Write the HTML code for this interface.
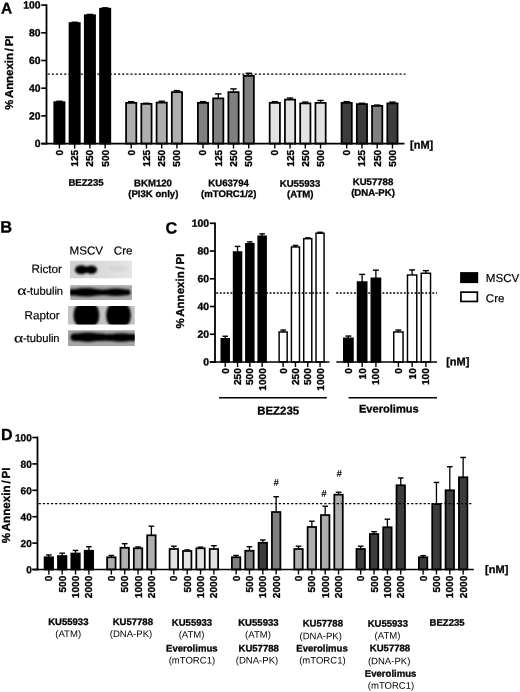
<!DOCTYPE html>
<html lang="en"><head><meta charset="utf-8"><title>Figure</title>
<style>
html,body{margin:0;padding:0;background:#fff;}
svg{display:block;font-family:"Liberation Sans",sans-serif;text-rendering:geometricPrecision;}
</style></head><body>
<svg width="520" height="692" viewBox="0 0 520 692">
<defs>
<filter id="b1" x="-20%" y="-50%" width="140%" height="200%"><feGaussianBlur stdDeviation="1.1"/></filter>
<filter id="b2" x="-20%" y="-50%" width="140%" height="200%"><feGaussianBlur stdDeviation="0.8"/></filter>
<filter id="b3" x="-20%" y="-50%" width="140%" height="200%"><feGaussianBlur stdDeviation="1.6"/></filter>
<clipPath id="c1"><rect x="70" y="260.7" width="62" height="17.5"/></clipPath>
<clipPath id="c2"><rect x="70.3" y="285.3" width="61.6" height="14.8"/></clipPath>
<clipPath id="c3"><rect x="68" y="306" width="66.7" height="18.4"/></clipPath>
<clipPath id="c4"><rect x="68" y="330.3" width="66.7" height="15.6"/></clipPath>
<linearGradient id="g1" x1="0" x2="1" y1="0" y2="0"><stop offset="0" stop-color="#cfcfcf"/><stop offset="1" stop-color="#e6e6e6"/></linearGradient>
</defs>
<rect width="520" height="692" fill="#fff"/>

<text x="1.0" y="13.5" font-size="15.5" font-weight="bold" stroke="#000" stroke-width="0.3" text-anchor="start" transform="rotate(0.03 1.0 13.5)">A</text>
<g id="panelA">
<line x1="59.4" y1="102.3" x2="59.4" y2="101.2" stroke="#000" stroke-width="1.3"/>
<line x1="56.2" y1="101.25" x2="62.6" y2="101.25" stroke="#000" stroke-width="1.4"/>
<rect x="54.27" y="102.17" width="10.25" height="41.42" fill="#000" stroke="#000" stroke-width="1.75"/>
<line x1="59.4" y1="143.6" x2="59.4" y2="148.6" stroke="#000" stroke-width="1.4"/>
<text x="59.4" y="149.8" font-size="10.1" font-weight="bold" stroke="#000" stroke-width="0.3" text-anchor="end" transform="rotate(-90 59.4 149.8)" dy="3.5">0</text>
<line x1="74.65" y1="23.2" x2="74.65" y2="22.2" stroke="#000" stroke-width="1.3"/>
<line x1="71.45" y1="22.25" x2="77.85" y2="22.25" stroke="#000" stroke-width="1.4"/>
<rect x="69.53" y="23.07" width="10.25" height="120.52" fill="#000" stroke="#000" stroke-width="1.75"/>
<line x1="74.65" y1="143.6" x2="74.65" y2="148.6" stroke="#000" stroke-width="1.4"/>
<text x="74.65" y="149.8" font-size="10.1" font-weight="bold" stroke="#000" stroke-width="0.3" text-anchor="end" transform="rotate(-90 74.65 149.8)" dy="3.5">125</text>
<line x1="89.9" y1="15.4" x2="89.9" y2="14.4" stroke="#000" stroke-width="1.3"/>
<line x1="86.7" y1="14.45" x2="93.1" y2="14.45" stroke="#000" stroke-width="1.4"/>
<rect x="84.78" y="15.28" width="10.25" height="128.32" fill="#000" stroke="#000" stroke-width="1.75"/>
<line x1="89.9" y1="143.6" x2="89.9" y2="148.6" stroke="#000" stroke-width="1.4"/>
<text x="89.9" y="149.8" font-size="10.1" font-weight="bold" stroke="#000" stroke-width="0.3" text-anchor="end" transform="rotate(-90 89.9 149.8)" dy="3.5">250</text>
<line x1="105.15" y1="8.8" x2="105.15" y2="7.8" stroke="#000" stroke-width="1.3"/>
<line x1="101.95" y1="7.85" x2="108.35" y2="7.85" stroke="#000" stroke-width="1.4"/>
<rect x="100.03" y="8.68" width="10.25" height="134.92" fill="#000" stroke="#000" stroke-width="1.75"/>
<line x1="105.15" y1="143.6" x2="105.15" y2="148.6" stroke="#000" stroke-width="1.4"/>
<text x="105.15" y="149.8" font-size="10.1" font-weight="bold" stroke="#000" stroke-width="0.3" text-anchor="end" transform="rotate(-90 105.15 149.8)" dy="3.5">500</text>
<line x1="131.2" y1="103" x2="131.2" y2="101.6" stroke="#000" stroke-width="1.3"/>
<line x1="128" y1="101.65" x2="134.4" y2="101.65" stroke="#000" stroke-width="1.4"/>
<rect x="126.08" y="102.88" width="10.25" height="40.72" fill="#aeaeae" stroke="#000" stroke-width="1.75"/>
<line x1="131.2" y1="143.6" x2="131.2" y2="148.6" stroke="#000" stroke-width="1.4"/>
<text x="131.2" y="149.8" font-size="10.1" font-weight="bold" stroke="#000" stroke-width="0.3" text-anchor="end" transform="rotate(-90 131.2 149.8)" dy="3.5">0</text>
<line x1="146.45" y1="104" x2="146.45" y2="103.2" stroke="#000" stroke-width="1.3"/>
<line x1="143.25" y1="103.25" x2="149.65" y2="103.25" stroke="#000" stroke-width="1.4"/>
<rect x="141.32" y="103.88" width="10.25" height="39.72" fill="#aeaeae" stroke="#000" stroke-width="1.75"/>
<line x1="146.45" y1="143.6" x2="146.45" y2="148.6" stroke="#000" stroke-width="1.4"/>
<text x="146.45" y="149.8" font-size="10.1" font-weight="bold" stroke="#000" stroke-width="0.3" text-anchor="end" transform="rotate(-90 146.45 149.8)" dy="3.5">125</text>
<line x1="161.7" y1="102.75" x2="161.7" y2="101.2" stroke="#000" stroke-width="1.3"/>
<line x1="158.5" y1="101.25" x2="164.9" y2="101.25" stroke="#000" stroke-width="1.4"/>
<rect x="156.57" y="102.62" width="10.25" height="40.97" fill="#aeaeae" stroke="#000" stroke-width="1.75"/>
<line x1="161.7" y1="143.6" x2="161.7" y2="148.6" stroke="#000" stroke-width="1.4"/>
<text x="161.7" y="149.8" font-size="10.1" font-weight="bold" stroke="#000" stroke-width="0.3" text-anchor="end" transform="rotate(-90 161.7 149.8)" dy="3.5">250</text>
<line x1="176.95" y1="92.25" x2="176.95" y2="90.6" stroke="#000" stroke-width="1.3"/>
<line x1="173.75" y1="90.65" x2="180.15" y2="90.65" stroke="#000" stroke-width="1.4"/>
<rect x="171.82" y="92.12" width="10.25" height="51.47" fill="#aeaeae" stroke="#000" stroke-width="1.75"/>
<line x1="176.95" y1="143.6" x2="176.95" y2="148.6" stroke="#000" stroke-width="1.4"/>
<text x="176.95" y="149.8" font-size="10.1" font-weight="bold" stroke="#000" stroke-width="0.3" text-anchor="end" transform="rotate(-90 176.95 149.8)" dy="3.5">500</text>
<line x1="203.0" y1="103" x2="203.0" y2="101.6" stroke="#000" stroke-width="1.3"/>
<line x1="199.8" y1="101.65" x2="206.2" y2="101.65" stroke="#000" stroke-width="1.4"/>
<rect x="197.88" y="102.88" width="10.25" height="40.72" fill="#808080" stroke="#000" stroke-width="1.75"/>
<line x1="203.0" y1="143.6" x2="203.0" y2="148.6" stroke="#000" stroke-width="1.4"/>
<text x="203.0" y="149.8" font-size="10.1" font-weight="bold" stroke="#000" stroke-width="0.3" text-anchor="end" transform="rotate(-90 203.0 149.8)" dy="3.5">0</text>
<line x1="218.25" y1="98.5" x2="218.25" y2="93.85" stroke="#000" stroke-width="1.3"/>
<line x1="215.05" y1="93.9" x2="221.45" y2="93.9" stroke="#000" stroke-width="1.4"/>
<rect x="213.12" y="98.38" width="10.25" height="45.22" fill="#808080" stroke="#000" stroke-width="1.75"/>
<line x1="218.25" y1="143.6" x2="218.25" y2="148.6" stroke="#000" stroke-width="1.4"/>
<text x="218.25" y="149.8" font-size="10.1" font-weight="bold" stroke="#000" stroke-width="0.3" text-anchor="end" transform="rotate(-90 218.25 149.8)" dy="3.5">125</text>
<line x1="233.5" y1="92.25" x2="233.5" y2="88.85" stroke="#000" stroke-width="1.3"/>
<line x1="230.3" y1="88.9" x2="236.7" y2="88.9" stroke="#000" stroke-width="1.4"/>
<rect x="228.38" y="92.12" width="10.25" height="51.47" fill="#808080" stroke="#000" stroke-width="1.75"/>
<line x1="233.5" y1="143.6" x2="233.5" y2="148.6" stroke="#000" stroke-width="1.4"/>
<text x="233.5" y="149.8" font-size="10.1" font-weight="bold" stroke="#000" stroke-width="0.3" text-anchor="end" transform="rotate(-90 233.5 149.8)" dy="3.5">250</text>
<line x1="248.75" y1="76" x2="248.75" y2="73.2" stroke="#000" stroke-width="1.3"/>
<line x1="245.55" y1="73.25" x2="251.95" y2="73.25" stroke="#000" stroke-width="1.4"/>
<rect x="243.62" y="75.88" width="10.25" height="67.72" fill="#808080" stroke="#000" stroke-width="1.75"/>
<line x1="248.75" y1="143.6" x2="248.75" y2="148.6" stroke="#000" stroke-width="1.4"/>
<text x="248.75" y="149.8" font-size="10.1" font-weight="bold" stroke="#000" stroke-width="0.3" text-anchor="end" transform="rotate(-90 248.75 149.8)" dy="3.5">500</text>
<line x1="274.8" y1="103" x2="274.8" y2="101.6" stroke="#000" stroke-width="1.3"/>
<line x1="271.6" y1="101.65" x2="278.0" y2="101.65" stroke="#000" stroke-width="1.4"/>
<rect x="269.68" y="102.88" width="10.25" height="40.72" fill="#e2e2e2" stroke="#000" stroke-width="1.75"/>
<line x1="274.8" y1="143.6" x2="274.8" y2="148.6" stroke="#000" stroke-width="1.4"/>
<text x="274.8" y="149.8" font-size="10.1" font-weight="bold" stroke="#000" stroke-width="0.3" text-anchor="end" transform="rotate(-90 274.8 149.8)" dy="3.5">0</text>
<line x1="290.05" y1="99.75" x2="290.05" y2="98.0" stroke="#000" stroke-width="1.3"/>
<line x1="286.85" y1="98.05" x2="293.25" y2="98.05" stroke="#000" stroke-width="1.4"/>
<rect x="284.93" y="99.62" width="10.25" height="43.97" fill="#e2e2e2" stroke="#000" stroke-width="1.75"/>
<line x1="290.05" y1="143.6" x2="290.05" y2="148.6" stroke="#000" stroke-width="1.4"/>
<text x="290.05" y="149.8" font-size="10.1" font-weight="bold" stroke="#000" stroke-width="0.3" text-anchor="end" transform="rotate(-90 290.05 149.8)" dy="3.5">125</text>
<line x1="305.3" y1="103.5" x2="305.3" y2="102.0" stroke="#000" stroke-width="1.3"/>
<line x1="302.1" y1="102.05" x2="308.5" y2="102.05" stroke="#000" stroke-width="1.4"/>
<rect x="300.18" y="103.38" width="10.25" height="40.22" fill="#e2e2e2" stroke="#000" stroke-width="1.75"/>
<line x1="305.3" y1="143.6" x2="305.3" y2="148.6" stroke="#000" stroke-width="1.4"/>
<text x="305.3" y="149.8" font-size="10.1" font-weight="bold" stroke="#000" stroke-width="0.3" text-anchor="end" transform="rotate(-90 305.3 149.8)" dy="3.5">250</text>
<line x1="320.55" y1="103" x2="320.55" y2="100.4" stroke="#000" stroke-width="1.3"/>
<line x1="317.35" y1="100.45" x2="323.75" y2="100.45" stroke="#000" stroke-width="1.4"/>
<rect x="315.43" y="102.88" width="10.25" height="40.72" fill="#e2e2e2" stroke="#000" stroke-width="1.75"/>
<line x1="320.55" y1="143.6" x2="320.55" y2="148.6" stroke="#000" stroke-width="1.4"/>
<text x="320.55" y="149.8" font-size="10.1" font-weight="bold" stroke="#000" stroke-width="0.3" text-anchor="end" transform="rotate(-90 320.55 149.8)" dy="3.5">500</text>
<line x1="346.7" y1="103" x2="346.7" y2="101.6" stroke="#000" stroke-width="1.3"/>
<line x1="343.5" y1="101.65" x2="349.9" y2="101.65" stroke="#000" stroke-width="1.4"/>
<rect x="341.57" y="102.88" width="10.25" height="40.72" fill="#3c3c3c" stroke="#000" stroke-width="1.75"/>
<line x1="346.7" y1="143.6" x2="346.7" y2="148.6" stroke="#000" stroke-width="1.4"/>
<text x="346.7" y="149.8" font-size="10.1" font-weight="bold" stroke="#000" stroke-width="0.3" text-anchor="end" transform="rotate(-90 346.7 149.8)" dy="3.5">0</text>
<line x1="361.95" y1="104.25" x2="361.95" y2="103.2" stroke="#000" stroke-width="1.3"/>
<line x1="358.75" y1="103.25" x2="365.15" y2="103.25" stroke="#000" stroke-width="1.4"/>
<rect x="356.82" y="104.12" width="10.25" height="39.47" fill="#3c3c3c" stroke="#000" stroke-width="1.75"/>
<line x1="361.95" y1="143.6" x2="361.95" y2="148.6" stroke="#000" stroke-width="1.4"/>
<text x="361.95" y="149.8" font-size="10.1" font-weight="bold" stroke="#000" stroke-width="0.3" text-anchor="end" transform="rotate(-90 361.95 149.8)" dy="3.5">125</text>
<line x1="377.2" y1="106" x2="377.2" y2="105.0" stroke="#000" stroke-width="1.3"/>
<line x1="374.0" y1="105.05" x2="380.4" y2="105.05" stroke="#000" stroke-width="1.4"/>
<rect x="372.07" y="105.88" width="10.25" height="37.72" fill="#808080" stroke="#000" stroke-width="1.75"/>
<line x1="377.2" y1="143.6" x2="377.2" y2="148.6" stroke="#000" stroke-width="1.4"/>
<text x="377.2" y="149.8" font-size="10.1" font-weight="bold" stroke="#000" stroke-width="0.3" text-anchor="end" transform="rotate(-90 377.2 149.8)" dy="3.5">250</text>
<line x1="392.45" y1="103.5" x2="392.45" y2="102.0" stroke="#000" stroke-width="1.3"/>
<line x1="389.25" y1="102.05" x2="395.65" y2="102.05" stroke="#000" stroke-width="1.4"/>
<rect x="387.32" y="103.38" width="10.25" height="40.22" fill="#3c3c3c" stroke="#000" stroke-width="1.75"/>
<line x1="392.45" y1="143.6" x2="392.45" y2="148.6" stroke="#000" stroke-width="1.4"/>
<text x="392.45" y="149.8" font-size="10.1" font-weight="bold" stroke="#000" stroke-width="0.3" text-anchor="end" transform="rotate(-90 392.45 149.8)" dy="3.5">500</text>
<line x1="41.3" y1="143.6" x2="404.5" y2="143.6" stroke="#000" stroke-width="1.7"/>
<line x1="46.5" y1="4.3" x2="46.5" y2="144.5" stroke="#000" stroke-width="1.8"/>
<line x1="41.3" y1="143.6" x2="46.5" y2="143.6" stroke="#000" stroke-width="1.65"/>
<text x="40.5" y="147.1" font-size="10.4" font-weight="bold" stroke="#000" stroke-width="0.3" text-anchor="end" transform="rotate(0.03 40.5 147.1)">0</text>
<line x1="41.3" y1="115.9" x2="46.5" y2="115.9" stroke="#000" stroke-width="1.65"/>
<text x="40.5" y="119.4" font-size="10.4" font-weight="bold" stroke="#000" stroke-width="0.3" text-anchor="end" transform="rotate(0.03 40.5 119.4)">20</text>
<line x1="41.3" y1="88.2" x2="46.5" y2="88.2" stroke="#000" stroke-width="1.65"/>
<text x="40.5" y="91.7" font-size="10.4" font-weight="bold" stroke="#000" stroke-width="0.3" text-anchor="end" transform="rotate(0.03 40.5 91.7)">40</text>
<line x1="41.3" y1="60.5" x2="46.5" y2="60.5" stroke="#000" stroke-width="1.65"/>
<text x="40.5" y="64.0" font-size="10.4" font-weight="bold" stroke="#000" stroke-width="0.3" text-anchor="end" transform="rotate(0.03 40.5 64.0)">60</text>
<line x1="41.3" y1="32.8" x2="46.5" y2="32.8" stroke="#000" stroke-width="1.65"/>
<text x="40.5" y="36.3" font-size="10.4" font-weight="bold" stroke="#000" stroke-width="0.3" text-anchor="end" transform="rotate(0.03 40.5 36.3)">80</text>
<line x1="41.3" y1="5.1" x2="46.5" y2="5.1" stroke="#000" stroke-width="1.65"/>
<text x="40.5" y="8.6" font-size="10.4" font-weight="bold" stroke="#000" stroke-width="0.3" text-anchor="end" transform="rotate(0.03 40.5 8.6)">100</text>
<line x1="47.6" y1="74.1" x2="405.5" y2="74.1" stroke="#000" stroke-width="1.3" stroke-dasharray="2.2 1.94"/>
<text x="13.2" y="72.6" font-size="11.4" font-weight="bold" stroke="#000" stroke-width="0.3" text-anchor="middle" transform="rotate(-90 13.2 72.6)" word-spacing="-1.33">% Annexin / PI</text>
<text x="410" y="148.6" font-size="11.0" font-weight="bold" stroke="#000" stroke-width="0.3" text-anchor="start" transform="rotate(0.03 410 148.6)">[nM]</text>
<text x="86" y="185.8" font-size="9.6" font-weight="bold" stroke="#000" stroke-width="0.3" text-anchor="middle" transform="rotate(0.03 86 185.8)">BEZ235</text>
<text x="153" y="186.2" font-size="9.6" font-weight="bold" stroke="#000" stroke-width="0.3" text-anchor="middle" transform="rotate(0.03 153 186.2)">BKM120</text>
<text x="153.3" y="197" font-size="9.6" font-weight="bold" stroke="#000" stroke-width="0.3" text-anchor="middle" transform="rotate(0.03 153.3 197)">(PI3K only)</text>
<text x="228.6" y="186.2" font-size="9.6" font-weight="bold" stroke="#000" stroke-width="0.3" text-anchor="middle" transform="rotate(0.03 228.6 186.2)">KU63794</text>
<text x="228.7" y="197" font-size="9.6" font-weight="bold" stroke="#000" stroke-width="0.3" text-anchor="middle" transform="rotate(0.03 228.7 197)">(mTORC1/2)</text>
<text x="300" y="186.7" font-size="9.6" font-weight="bold" stroke="#000" stroke-width="0.3" text-anchor="middle" transform="rotate(0.03 300 186.7)">KU55933</text>
<text x="300.3" y="197.2" font-size="9.6" font-weight="bold" stroke="#000" stroke-width="0.3" text-anchor="middle" transform="rotate(0.03 300.3 197.2)">(ATM)</text>
<text x="373" y="184.9" font-size="9.6" font-weight="bold" stroke="#000" stroke-width="0.3" text-anchor="middle" transform="rotate(0.03 373 184.9)">KU57788</text>
<text x="373" y="195.7" font-size="9.6" font-weight="bold" stroke="#000" stroke-width="0.3" text-anchor="middle" transform="rotate(0.03 373 195.7)">(DNA-PK)</text>
</g>
<g id="panelB">
<text x="0.3" y="232.5" font-size="16.4" font-weight="bold" stroke="#000" stroke-width="0.3" text-anchor="start" transform="rotate(0.03 0.3 232.5)">B</text>
<text x="86.3" y="254.6" font-size="11.6" text-anchor="middle" transform="rotate(0.03 86.3 254.6)" stroke="#000" stroke-width="0.18">MSCV</text>
<text x="123.2" y="254.6" font-size="11.6" text-anchor="middle" transform="rotate(0.03 123.2 254.6)" stroke="#000" stroke-width="0.18">Cre</text>
<text x="62.0" y="272.9" font-size="11.7" text-anchor="end" transform="rotate(0.03 62.0 272.9)" stroke="#000" stroke-width="0.18">Rictor</text>
<text x="63.1" y="294.7" font-size="11.2" text-anchor="end" transform="rotate(0.03 63.1 294.7)" stroke="#000" stroke-width="0.18">-tubulin</text>
<text x="59.6" y="319.2" font-size="11.7" text-anchor="end" transform="rotate(0.03 59.6 319.2)" stroke="#000" stroke-width="0.18">Raptor</text>
<text x="59.6" y="342.1" font-size="11.2" text-anchor="end" transform="rotate(0.03 59.6 342.1)" stroke="#000" stroke-width="0.18">-tubulin</text>
<text transform="translate(17.3 294.8) rotate(0.03) scale(1.31 1)" font-family="Liberation Serif" font-size="13.5" stroke="#000" stroke-width="0.18">α</text>
<text transform="translate(14.1 342.2) rotate(0.03) scale(1.31 1)" font-family="Liberation Serif" font-size="13.5" stroke="#000" stroke-width="0.18">α</text>
<g clip-path="url(#c1)"><rect x="69" y="259" width="65" height="21" fill="url(#g1)"/><g filter="url(#b1)"><ellipse cx="81.2" cy="269.7" rx="6.3" ry="4.5" fill="#000"/><ellipse cx="91.4" cy="269.8" rx="5.8" ry="4.2" fill="#000"/><rect x="80" y="266.6" width="12" height="6.2" fill="#000"/></g><g filter="url(#b3)"><ellipse cx="118" cy="268.5" rx="9" ry="2.5" fill="#c0c0c0" opacity="0.4"/></g></g>
<g clip-path="url(#c2)"><rect x="69" y="284" width="65" height="18" fill="#a8a8a8"/><g filter="url(#b2)"><rect x="64" y="289.2" width="38.5" height="6.2" rx="3.1" fill="#000"/><ellipse cx="86" cy="292.3" rx="15.5" ry="4.2" fill="#000"/><rect x="100" y="289.4" width="30.5" height="5.8" rx="2.9" fill="#000"/><ellipse cx="116" cy="292.3" rx="13.5" ry="3.7" fill="#000"/><rect x="98" y="290" width="8" height="4.6" fill="#000"/></g></g>
<g clip-path="url(#c3)"><rect x="67" y="305" width="69" height="21" fill="#c2c2c2"/><g filter="url(#b1)"><rect x="73.6" y="302.5" width="25.6" height="25.5" rx="10" ry="11" fill="#000"/><rect x="106.2" y="302.5" width="24.6" height="25.5" rx="10" ry="11" fill="#000"/></g></g>
<g clip-path="url(#c4)"><rect x="67" y="329" width="69" height="18" fill="#a4a4a4"/><g filter="url(#b2)"><rect x="70.6" y="333.6" width="36" height="7.4" rx="3.7" fill="#000"/><ellipse cx="88" cy="337.3" rx="15.5" ry="4.7" fill="#000"/><rect x="104.5" y="333.9" width="34" height="7" rx="3.5" fill="#000"/><ellipse cx="121" cy="337.5" rx="15" ry="4.3" fill="#000"/><rect x="102" y="334.6" width="8" height="5.6" fill="#000"/></g></g>
</g>
<g id="panelC">
<text x="165.6" y="233.4" font-size="16.3" font-weight="bold" stroke="#000" stroke-width="0.3" text-anchor="start" transform="rotate(0.03 165.6 233.4)">C</text>
<line x1="225.25" y1="339" x2="225.25" y2="336.2" stroke="#000" stroke-width="1.3"/>
<line x1="222.45" y1="336.25" x2="228.05" y2="336.25" stroke="#000" stroke-width="1.4"/>
<rect x="221.22" y="338.73" width="8.05" height="23.27" fill="#000" stroke="#000" stroke-width="1.45"/>
<line x1="225.25" y1="362" x2="225.25" y2="367.0" stroke="#000" stroke-width="1.4"/>
<text x="225.25" y="368.2" font-size="10.1" font-weight="bold" stroke="#000" stroke-width="0.3" text-anchor="end" transform="rotate(-90 225.25 368.2)" dy="3.5">0</text>
<line x1="237.55" y1="252.25" x2="237.55" y2="246.35" stroke="#000" stroke-width="1.3"/>
<line x1="234.75" y1="246.4" x2="240.35" y2="246.4" stroke="#000" stroke-width="1.4"/>
<rect x="233.53" y="251.97" width="8.05" height="110.03" fill="#000" stroke="#000" stroke-width="1.45"/>
<line x1="237.55" y1="362" x2="237.55" y2="367.0" stroke="#000" stroke-width="1.4"/>
<text x="237.55" y="368.2" font-size="10.1" font-weight="bold" stroke="#000" stroke-width="0.3" text-anchor="end" transform="rotate(-90 237.55 368.2)" dy="3.5">250</text>
<line x1="249.85" y1="244" x2="249.85" y2="241.85" stroke="#000" stroke-width="1.3"/>
<line x1="247.05" y1="241.9" x2="252.65" y2="241.9" stroke="#000" stroke-width="1.4"/>
<rect x="245.82" y="243.72" width="8.05" height="118.28" fill="#000" stroke="#000" stroke-width="1.45"/>
<line x1="249.85" y1="362" x2="249.85" y2="367.0" stroke="#000" stroke-width="1.4"/>
<text x="249.85" y="368.2" font-size="10.1" font-weight="bold" stroke="#000" stroke-width="0.3" text-anchor="end" transform="rotate(-90 249.85 368.2)" dy="3.5">500</text>
<line x1="262.15" y1="236.5" x2="262.15" y2="233.85" stroke="#000" stroke-width="1.3"/>
<line x1="259.35" y1="233.9" x2="264.95" y2="233.9" stroke="#000" stroke-width="1.4"/>
<rect x="258.12" y="236.22" width="8.05" height="125.78" fill="#000" stroke="#000" stroke-width="1.45"/>
<line x1="262.15" y1="362" x2="262.15" y2="367.0" stroke="#000" stroke-width="1.4"/>
<text x="262.15" y="368.2" font-size="10.1" font-weight="bold" stroke="#000" stroke-width="0.3" text-anchor="end" transform="rotate(-90 262.15 368.2)" dy="3.5">1000</text>
<line x1="283.15" y1="332.25" x2="283.15" y2="330.0" stroke="#000" stroke-width="1.3"/>
<line x1="280.35" y1="330.05" x2="285.95" y2="330.05" stroke="#000" stroke-width="1.4"/>
<rect x="279.12" y="331.98" width="8.05" height="30.02" fill="#fff" stroke="#000" stroke-width="1.45"/>
<line x1="283.15" y1="362" x2="283.15" y2="367.0" stroke="#000" stroke-width="1.4"/>
<text x="283.15" y="368.2" font-size="10.1" font-weight="bold" stroke="#000" stroke-width="0.3" text-anchor="end" transform="rotate(-90 283.15 368.2)" dy="3.5">0</text>
<line x1="295.45" y1="247.25" x2="295.45" y2="245.4" stroke="#000" stroke-width="1.3"/>
<line x1="292.65" y1="245.45" x2="298.25" y2="245.45" stroke="#000" stroke-width="1.4"/>
<rect x="291.43" y="246.97" width="8.05" height="115.03" fill="#fff" stroke="#000" stroke-width="1.45"/>
<line x1="295.45" y1="362" x2="295.45" y2="367.0" stroke="#000" stroke-width="1.4"/>
<text x="295.45" y="368.2" font-size="10.1" font-weight="bold" stroke="#000" stroke-width="0.3" text-anchor="end" transform="rotate(-90 295.45 368.2)" dy="3.5">250</text>
<line x1="307.75" y1="239" x2="307.75" y2="237.8" stroke="#000" stroke-width="1.3"/>
<line x1="304.95" y1="237.85" x2="310.55" y2="237.85" stroke="#000" stroke-width="1.4"/>
<rect x="303.73" y="238.72" width="8.05" height="123.28" fill="#fff" stroke="#000" stroke-width="1.45"/>
<line x1="307.75" y1="362" x2="307.75" y2="367.0" stroke="#000" stroke-width="1.4"/>
<text x="307.75" y="368.2" font-size="10.1" font-weight="bold" stroke="#000" stroke-width="0.3" text-anchor="end" transform="rotate(-90 307.75 368.2)" dy="3.5">500</text>
<line x1="320.05" y1="233.5" x2="320.05" y2="232.2" stroke="#000" stroke-width="1.3"/>
<line x1="317.25" y1="232.25" x2="322.85" y2="232.25" stroke="#000" stroke-width="1.4"/>
<rect x="316.02" y="233.22" width="8.05" height="128.78" fill="#fff" stroke="#000" stroke-width="1.45"/>
<line x1="320.05" y1="362" x2="320.05" y2="367.0" stroke="#000" stroke-width="1.4"/>
<text x="320.05" y="368.2" font-size="10.1" font-weight="bold" stroke="#000" stroke-width="0.3" text-anchor="end" transform="rotate(-90 320.05 368.2)" dy="3.5">1000</text>
<line x1="348.38" y1="338.5" x2="348.38" y2="336.0" stroke="#000" stroke-width="1.3"/>
<line x1="345.38" y1="336.05" x2="351.38" y2="336.05" stroke="#000" stroke-width="1.4"/>
<rect x="343.73" y="338.23" width="9.30" height="23.77" fill="#000" stroke="#000" stroke-width="1.45"/>
<line x1="348.4" y1="362" x2="348.4" y2="367.0" stroke="#000" stroke-width="1.4"/>
<text x="348.4" y="368.2" font-size="10.1" font-weight="bold" stroke="#000" stroke-width="0.3" text-anchor="end" transform="rotate(-90 348.4 368.2)" dy="3.5">0</text>
<line x1="362.12" y1="282.25" x2="362.12" y2="274.35" stroke="#000" stroke-width="1.3"/>
<line x1="359.12" y1="274.4" x2="365.12" y2="274.4" stroke="#000" stroke-width="1.4"/>
<rect x="357.48" y="281.98" width="9.30" height="80.03" fill="#000" stroke="#000" stroke-width="1.45"/>
<line x1="362.15" y1="362" x2="362.15" y2="367.0" stroke="#000" stroke-width="1.4"/>
<text x="362.15" y="368.2" font-size="10.1" font-weight="bold" stroke="#000" stroke-width="0.3" text-anchor="end" transform="rotate(-90 362.15 368.2)" dy="3.5">10</text>
<line x1="375.88" y1="278.5" x2="375.88" y2="270.1" stroke="#000" stroke-width="1.3"/>
<line x1="372.88" y1="270.15" x2="378.88" y2="270.15" stroke="#000" stroke-width="1.4"/>
<rect x="371.23" y="278.23" width="9.30" height="83.78" fill="#000" stroke="#000" stroke-width="1.45"/>
<line x1="375.9" y1="362" x2="375.9" y2="367.0" stroke="#000" stroke-width="1.4"/>
<text x="375.9" y="368.2" font-size="10.1" font-weight="bold" stroke="#000" stroke-width="0.3" text-anchor="end" transform="rotate(-90 375.9 368.2)" dy="3.5">100</text>
<line x1="398.38" y1="332.25" x2="398.38" y2="330.0" stroke="#000" stroke-width="1.3"/>
<line x1="395.38" y1="330.05" x2="401.38" y2="330.05" stroke="#000" stroke-width="1.4"/>
<rect x="393.73" y="331.98" width="9.30" height="30.02" fill="#fff" stroke="#000" stroke-width="1.45"/>
<line x1="398.4" y1="362" x2="398.4" y2="367.0" stroke="#000" stroke-width="1.4"/>
<text x="398.4" y="368.2" font-size="10.1" font-weight="bold" stroke="#000" stroke-width="0.3" text-anchor="end" transform="rotate(-90 398.4 368.2)" dy="3.5">0</text>
<line x1="412.12" y1="275.25" x2="412.12" y2="269.85" stroke="#000" stroke-width="1.3"/>
<line x1="409.12" y1="269.9" x2="415.12" y2="269.9" stroke="#000" stroke-width="1.4"/>
<rect x="407.48" y="274.98" width="9.30" height="87.03" fill="#fff" stroke="#000" stroke-width="1.45"/>
<line x1="412.15" y1="362" x2="412.15" y2="367.0" stroke="#000" stroke-width="1.4"/>
<text x="412.15" y="368.2" font-size="10.1" font-weight="bold" stroke="#000" stroke-width="0.3" text-anchor="end" transform="rotate(-90 412.15 368.2)" dy="3.5">10</text>
<line x1="425.88" y1="273.5" x2="425.88" y2="270.6" stroke="#000" stroke-width="1.3"/>
<line x1="422.88" y1="270.65" x2="428.88" y2="270.65" stroke="#000" stroke-width="1.4"/>
<rect x="421.23" y="273.23" width="9.30" height="88.78" fill="#fff" stroke="#000" stroke-width="1.45"/>
<line x1="425.9" y1="362" x2="425.9" y2="367.0" stroke="#000" stroke-width="1.4"/>
<text x="425.9" y="368.2" font-size="10.1" font-weight="bold" stroke="#000" stroke-width="0.3" text-anchor="end" transform="rotate(-90 425.9 368.2)" dy="3.5">100</text>
<line x1="209.8" y1="362" x2="329.5" y2="362" stroke="#000" stroke-width="1.7"/>
<line x1="336.3" y1="362" x2="437" y2="362" stroke="#000" stroke-width="1.7"/>
<line x1="215" y1="222.5" x2="215" y2="362.9" stroke="#000" stroke-width="1.8"/>
<line x1="209.8" y1="362.0" x2="215" y2="362.0" stroke="#000" stroke-width="1.65"/>
<text x="209.0" y="365.5" font-size="10.4" font-weight="bold" stroke="#000" stroke-width="0.3" text-anchor="end" transform="rotate(0.03 209.0 365.5)">0</text>
<line x1="209.8" y1="334.26" x2="215" y2="334.26" stroke="#000" stroke-width="1.65"/>
<text x="209.0" y="337.76" font-size="10.4" font-weight="bold" stroke="#000" stroke-width="0.3" text-anchor="end" transform="rotate(0.03 209.0 337.76)">20</text>
<line x1="209.8" y1="306.52" x2="215" y2="306.52" stroke="#000" stroke-width="1.65"/>
<text x="209.0" y="310.02" font-size="10.4" font-weight="bold" stroke="#000" stroke-width="0.3" text-anchor="end" transform="rotate(0.03 209.0 310.02)">40</text>
<line x1="209.8" y1="278.78" x2="215" y2="278.78" stroke="#000" stroke-width="1.65"/>
<text x="209.0" y="282.28" font-size="10.4" font-weight="bold" stroke="#000" stroke-width="0.3" text-anchor="end" transform="rotate(0.03 209.0 282.28)">60</text>
<line x1="209.8" y1="251.04" x2="215" y2="251.04" stroke="#000" stroke-width="1.65"/>
<text x="209.0" y="254.54" font-size="10.4" font-weight="bold" stroke="#000" stroke-width="0.3" text-anchor="end" transform="rotate(0.03 209.0 254.54)">80</text>
<line x1="209.8" y1="223.3" x2="215" y2="223.3" stroke="#000" stroke-width="1.65"/>
<text x="209.0" y="226.8" font-size="10.4" font-weight="bold" stroke="#000" stroke-width="0.3" text-anchor="end" transform="rotate(0.03 209.0 226.8)">100</text>
<line x1="216.2" y1="293.0" x2="329.6" y2="293.0" stroke="#000" stroke-width="1.3" stroke-dasharray="1.9 1.66"/>
<line x1="336.2" y1="293.0" x2="437" y2="293.0" stroke="#000" stroke-width="1.3" stroke-dasharray="1.9 1.66"/>
<text x="183.8" y="290.95" font-size="11.5" font-weight="bold" stroke="#000" stroke-width="0.3" text-anchor="middle" transform="rotate(-90 183.8 290.95)" word-spacing="-1.33">% Annexin / PI</text>
<text x="446.2" y="365.2" font-size="11.0" font-weight="bold" stroke="#000" stroke-width="0.3" text-anchor="start" transform="rotate(0.03 446.2 365.2)">[nM]</text>
<line x1="219" y1="397.8" x2="326.8" y2="397.8" stroke="#000" stroke-width="1.5"/>
<line x1="348.6" y1="397.8" x2="437" y2="397.8" stroke="#000" stroke-width="1.5"/>
<text x="278.2" y="414.6" font-size="11.4" font-weight="bold" stroke="#000" stroke-width="0.3" text-anchor="middle" transform="rotate(0.03 278.2 414.6)">BEZ235</text>
<text x="388.8" y="412.6" font-size="11.1" font-weight="bold" stroke="#000" stroke-width="0.3" text-anchor="middle" transform="rotate(0.03 388.8 412.6)">Everolimus</text>
<rect x="460.1" y="272.1" width="18.1" height="11" fill="#000"/>
<rect x="460.95" y="292.15" width="16.4" height="9.3" fill="#fff" stroke="#000" stroke-width="1.7"/>
<text x="485.8" y="282.0" font-size="11.6" text-anchor="start" transform="rotate(0.03 485.8 282.0)" stroke="#000" stroke-width="0.18">MSCV</text>
<text x="485.8" y="302.3" font-size="11.6" text-anchor="start" transform="rotate(0.03 485.8 302.3)" stroke="#000" stroke-width="0.18">Cre</text>
</g>
<g id="panelD">
<text x="0.9" y="440.1" font-size="16" font-weight="bold" stroke="#000" stroke-width="0.3" text-anchor="start" transform="rotate(0.03 0.9 440.1)">D</text>
<line x1="48.85" y1="557.4" x2="48.85" y2="554.9" stroke="#000" stroke-width="1.3"/>
<line x1="46.05" y1="554.95" x2="51.65" y2="554.95" stroke="#000" stroke-width="1.4"/>
<rect x="44.62" y="557.27" width="8.45" height="12.23" fill="#000" stroke="#000" stroke-width="1.75"/>
<line x1="48.85" y1="569.5" x2="48.85" y2="574.5" stroke="#000" stroke-width="1.4"/>
<text x="48.85" y="575.7" font-size="10.1" font-weight="bold" stroke="#000" stroke-width="0.3" text-anchor="end" transform="rotate(-90 48.85 575.7)" dy="3.5">0</text>
<line x1="62.2" y1="556.15" x2="62.2" y2="553.15" stroke="#000" stroke-width="1.3"/>
<line x1="59.4" y1="553.2" x2="65.0" y2="553.2" stroke="#000" stroke-width="1.4"/>
<rect x="57.98" y="556.02" width="8.45" height="13.48" fill="#000" stroke="#000" stroke-width="1.75"/>
<line x1="62.2" y1="569.5" x2="62.2" y2="574.5" stroke="#000" stroke-width="1.4"/>
<text x="62.2" y="575.7" font-size="10.1" font-weight="bold" stroke="#000" stroke-width="0.3" text-anchor="end" transform="rotate(-90 62.2 575.7)" dy="3.5">500</text>
<line x1="75.55" y1="553.65" x2="75.55" y2="550.4" stroke="#000" stroke-width="1.3"/>
<line x1="72.75" y1="550.45" x2="78.35" y2="550.45" stroke="#000" stroke-width="1.4"/>
<rect x="71.33" y="553.52" width="8.45" height="15.98" fill="#000" stroke="#000" stroke-width="1.75"/>
<line x1="75.55" y1="569.5" x2="75.55" y2="574.5" stroke="#000" stroke-width="1.4"/>
<text x="75.55" y="575.7" font-size="10.1" font-weight="bold" stroke="#000" stroke-width="0.3" text-anchor="end" transform="rotate(-90 75.55 575.7)" dy="3.5">1000</text>
<line x1="88.9" y1="550.9" x2="88.9" y2="546.65" stroke="#000" stroke-width="1.3"/>
<line x1="86.1" y1="546.7" x2="91.7" y2="546.7" stroke="#000" stroke-width="1.4"/>
<rect x="84.67" y="550.77" width="8.45" height="18.73" fill="#000" stroke="#000" stroke-width="1.75"/>
<line x1="88.9" y1="569.5" x2="88.9" y2="574.5" stroke="#000" stroke-width="1.4"/>
<text x="88.9" y="575.7" font-size="10.1" font-weight="bold" stroke="#000" stroke-width="0.3" text-anchor="end" transform="rotate(-90 88.9 575.7)" dy="3.5">2000</text>
<line x1="111.35" y1="557.4" x2="111.35" y2="555.4" stroke="#000" stroke-width="1.3"/>
<line x1="108.55" y1="555.45" x2="114.15" y2="555.45" stroke="#000" stroke-width="1.4"/>
<rect x="107.12" y="557.27" width="8.45" height="12.23" fill="#aeaeae" stroke="#000" stroke-width="1.75"/>
<line x1="111.35" y1="569.5" x2="111.35" y2="574.5" stroke="#000" stroke-width="1.4"/>
<text x="111.35" y="575.7" font-size="10.1" font-weight="bold" stroke="#000" stroke-width="0.3" text-anchor="end" transform="rotate(-90 111.35 575.7)" dy="3.5">0</text>
<line x1="124.7" y1="547.9" x2="124.7" y2="543.65" stroke="#000" stroke-width="1.3"/>
<line x1="121.9" y1="543.7" x2="127.5" y2="543.7" stroke="#000" stroke-width="1.4"/>
<rect x="120.47" y="547.77" width="8.45" height="21.73" fill="#aeaeae" stroke="#000" stroke-width="1.75"/>
<line x1="124.7" y1="569.5" x2="124.7" y2="574.5" stroke="#000" stroke-width="1.4"/>
<text x="124.7" y="575.7" font-size="10.1" font-weight="bold" stroke="#000" stroke-width="0.3" text-anchor="end" transform="rotate(-90 124.7 575.7)" dy="3.5">500</text>
<line x1="138.05" y1="548.4" x2="138.05" y2="546.9" stroke="#000" stroke-width="1.3"/>
<line x1="135.25" y1="546.95" x2="140.85" y2="546.95" stroke="#000" stroke-width="1.4"/>
<rect x="133.82" y="548.27" width="8.45" height="21.23" fill="#aeaeae" stroke="#000" stroke-width="1.75"/>
<line x1="138.05" y1="569.5" x2="138.05" y2="574.5" stroke="#000" stroke-width="1.4"/>
<text x="138.05" y="575.7" font-size="10.1" font-weight="bold" stroke="#000" stroke-width="0.3" text-anchor="end" transform="rotate(-90 138.05 575.7)" dy="3.5">1000</text>
<line x1="151.4" y1="535.4" x2="151.4" y2="526.15" stroke="#000" stroke-width="1.3"/>
<line x1="148.6" y1="526.2" x2="154.2" y2="526.2" stroke="#000" stroke-width="1.4"/>
<rect x="147.18" y="535.27" width="8.45" height="34.23" fill="#aeaeae" stroke="#000" stroke-width="1.75"/>
<line x1="151.4" y1="569.5" x2="151.4" y2="574.5" stroke="#000" stroke-width="1.4"/>
<text x="151.4" y="575.7" font-size="10.1" font-weight="bold" stroke="#000" stroke-width="0.3" text-anchor="end" transform="rotate(-90 151.4 575.7)" dy="3.5">2000</text>
<line x1="173.85" y1="549.15" x2="173.85" y2="546.15" stroke="#000" stroke-width="1.3"/>
<line x1="171.05" y1="546.2" x2="176.65" y2="546.2" stroke="#000" stroke-width="1.4"/>
<rect x="169.62" y="549.02" width="8.45" height="20.48" fill="#e2e2e2" stroke="#000" stroke-width="1.75"/>
<line x1="173.85" y1="569.5" x2="173.85" y2="574.5" stroke="#000" stroke-width="1.4"/>
<text x="173.85" y="575.7" font-size="10.1" font-weight="bold" stroke="#000" stroke-width="0.3" text-anchor="end" transform="rotate(-90 173.85 575.7)" dy="3.5">0</text>
<line x1="187.2" y1="551.15" x2="187.2" y2="549.9" stroke="#000" stroke-width="1.3"/>
<line x1="184.4" y1="549.95" x2="190.0" y2="549.95" stroke="#000" stroke-width="1.4"/>
<rect x="182.97" y="551.02" width="8.45" height="18.48" fill="#e2e2e2" stroke="#000" stroke-width="1.75"/>
<line x1="187.2" y1="569.5" x2="187.2" y2="574.5" stroke="#000" stroke-width="1.4"/>
<text x="187.2" y="575.7" font-size="10.1" font-weight="bold" stroke="#000" stroke-width="0.3" text-anchor="end" transform="rotate(-90 187.2 575.7)" dy="3.5">500</text>
<line x1="200.55" y1="548.4" x2="200.55" y2="547.1" stroke="#000" stroke-width="1.3"/>
<line x1="197.75" y1="547.15" x2="203.35" y2="547.15" stroke="#000" stroke-width="1.4"/>
<rect x="196.32" y="548.27" width="8.45" height="21.23" fill="#e2e2e2" stroke="#000" stroke-width="1.75"/>
<line x1="200.55" y1="569.5" x2="200.55" y2="574.5" stroke="#000" stroke-width="1.4"/>
<text x="200.55" y="575.7" font-size="10.1" font-weight="bold" stroke="#000" stroke-width="0.3" text-anchor="end" transform="rotate(-90 200.55 575.7)" dy="3.5">1000</text>
<line x1="213.9" y1="549.15" x2="213.9" y2="545.65" stroke="#000" stroke-width="1.3"/>
<line x1="211.1" y1="545.7" x2="216.7" y2="545.7" stroke="#000" stroke-width="1.4"/>
<rect x="209.68" y="549.02" width="8.45" height="20.48" fill="#e2e2e2" stroke="#000" stroke-width="1.75"/>
<line x1="213.9" y1="569.5" x2="213.9" y2="574.5" stroke="#000" stroke-width="1.4"/>
<text x="213.9" y="575.7" font-size="10.1" font-weight="bold" stroke="#000" stroke-width="0.3" text-anchor="end" transform="rotate(-90 213.9 575.7)" dy="3.5">2000</text>
<line x1="236.1" y1="557.4" x2="236.1" y2="555.4" stroke="#000" stroke-width="1.3"/>
<line x1="233.3" y1="555.45" x2="238.9" y2="555.45" stroke="#000" stroke-width="1.4"/>
<rect x="231.88" y="557.27" width="8.45" height="12.23" fill="#808080" stroke="#000" stroke-width="1.75"/>
<line x1="236.1" y1="569.5" x2="236.1" y2="574.5" stroke="#000" stroke-width="1.4"/>
<text x="236.1" y="575.7" font-size="10.1" font-weight="bold" stroke="#000" stroke-width="0.3" text-anchor="end" transform="rotate(-90 236.1 575.7)" dy="3.5">0</text>
<line x1="249.45" y1="550.9" x2="249.45" y2="546.65" stroke="#000" stroke-width="1.3"/>
<line x1="246.65" y1="546.7" x2="252.25" y2="546.7" stroke="#000" stroke-width="1.4"/>
<rect x="245.22" y="550.77" width="8.45" height="18.73" fill="#808080" stroke="#000" stroke-width="1.75"/>
<line x1="249.45" y1="569.5" x2="249.45" y2="574.5" stroke="#000" stroke-width="1.4"/>
<text x="249.45" y="575.7" font-size="10.1" font-weight="bold" stroke="#000" stroke-width="0.3" text-anchor="end" transform="rotate(-90 249.45 575.7)" dy="3.5">500</text>
<line x1="262.8" y1="542.9" x2="262.8" y2="539.9" stroke="#000" stroke-width="1.3"/>
<line x1="260" y1="539.95" x2="265.6" y2="539.95" stroke="#000" stroke-width="1.4"/>
<rect x="258.57" y="542.77" width="8.45" height="26.73" fill="#3c3c3c" stroke="#000" stroke-width="1.75"/>
<line x1="262.8" y1="569.5" x2="262.8" y2="574.5" stroke="#000" stroke-width="1.4"/>
<text x="262.8" y="575.7" font-size="10.1" font-weight="bold" stroke="#000" stroke-width="0.3" text-anchor="end" transform="rotate(-90 262.8 575.7)" dy="3.5">1000</text>
<line x1="276.15" y1="512.15" x2="276.15" y2="496.65" stroke="#000" stroke-width="1.3"/>
<line x1="273.35" y1="496.7" x2="278.95" y2="496.7" stroke="#000" stroke-width="1.4"/>
<rect x="271.93" y="512.02" width="8.45" height="57.48" fill="#808080" stroke="#000" stroke-width="1.75"/>
<line x1="276.15" y1="569.5" x2="276.15" y2="574.5" stroke="#000" stroke-width="1.4"/>
<text x="276.15" y="575.7" font-size="10.1" font-weight="bold" stroke="#000" stroke-width="0.3" text-anchor="end" transform="rotate(-90 276.15 575.7)" dy="3.5">2000</text>
<line x1="298.5" y1="549.15" x2="298.5" y2="546.15" stroke="#000" stroke-width="1.3"/>
<line x1="295.7" y1="546.2" x2="301.3" y2="546.2" stroke="#000" stroke-width="1.4"/>
<rect x="294.27" y="549.02" width="8.45" height="20.48" fill="#aeaeae" stroke="#000" stroke-width="1.75"/>
<line x1="298.5" y1="569.5" x2="298.5" y2="574.5" stroke="#000" stroke-width="1.4"/>
<text x="298.5" y="575.7" font-size="10.1" font-weight="bold" stroke="#000" stroke-width="0.3" text-anchor="end" transform="rotate(-90 298.5 575.7)" dy="3.5">0</text>
<line x1="311.85" y1="527.1" x2="311.85" y2="521.15" stroke="#000" stroke-width="1.3"/>
<line x1="309.05" y1="521.2" x2="314.65" y2="521.2" stroke="#000" stroke-width="1.4"/>
<rect x="307.62" y="526.98" width="8.45" height="42.52" fill="#aeaeae" stroke="#000" stroke-width="1.75"/>
<line x1="311.85" y1="569.5" x2="311.85" y2="574.5" stroke="#000" stroke-width="1.4"/>
<text x="311.85" y="575.7" font-size="10.1" font-weight="bold" stroke="#000" stroke-width="0.3" text-anchor="end" transform="rotate(-90 311.85 575.7)" dy="3.5">500</text>
<line x1="325.2" y1="515.2" x2="325.2" y2="506.15" stroke="#000" stroke-width="1.3"/>
<line x1="322.4" y1="506.2" x2="328" y2="506.2" stroke="#000" stroke-width="1.4"/>
<rect x="320.97" y="515.07" width="8.45" height="54.43" fill="#aeaeae" stroke="#000" stroke-width="1.75"/>
<line x1="325.2" y1="569.5" x2="325.2" y2="574.5" stroke="#000" stroke-width="1.4"/>
<text x="325.2" y="575.7" font-size="10.1" font-weight="bold" stroke="#000" stroke-width="0.3" text-anchor="end" transform="rotate(-90 325.2 575.7)" dy="3.5">1000</text>
<line x1="338.55" y1="494.8" x2="338.55" y2="492.2" stroke="#000" stroke-width="1.3"/>
<line x1="335.75" y1="492.25" x2="341.35" y2="492.25" stroke="#000" stroke-width="1.4"/>
<rect x="334.32" y="494.67" width="8.45" height="74.83" fill="#aeaeae" stroke="#000" stroke-width="1.75"/>
<line x1="338.55" y1="569.5" x2="338.55" y2="574.5" stroke="#000" stroke-width="1.4"/>
<text x="338.55" y="575.7" font-size="10.1" font-weight="bold" stroke="#000" stroke-width="0.3" text-anchor="end" transform="rotate(-90 338.55 575.7)" dy="3.5">2000</text>
<line x1="360.7" y1="549.15" x2="360.7" y2="546.15" stroke="#000" stroke-width="1.3"/>
<line x1="357.9" y1="546.2" x2="363.5" y2="546.2" stroke="#000" stroke-width="1.4"/>
<rect x="356.48" y="549.02" width="8.45" height="20.48" fill="#3c3c3c" stroke="#000" stroke-width="1.75"/>
<line x1="360.7" y1="569.5" x2="360.7" y2="574.5" stroke="#000" stroke-width="1.4"/>
<text x="360.7" y="575.7" font-size="10.1" font-weight="bold" stroke="#000" stroke-width="0.3" text-anchor="end" transform="rotate(-90 360.7 575.7)" dy="3.5">0</text>
<line x1="374.05" y1="534.15" x2="374.05" y2="531.65" stroke="#000" stroke-width="1.3"/>
<line x1="371.25" y1="531.7" x2="376.85" y2="531.7" stroke="#000" stroke-width="1.4"/>
<rect x="369.83" y="534.02" width="8.45" height="35.48" fill="#3c3c3c" stroke="#000" stroke-width="1.75"/>
<line x1="374.05" y1="569.5" x2="374.05" y2="574.5" stroke="#000" stroke-width="1.4"/>
<text x="374.05" y="575.7" font-size="10.1" font-weight="bold" stroke="#000" stroke-width="0.3" text-anchor="end" transform="rotate(-90 374.05 575.7)" dy="3.5">500</text>
<line x1="387.4" y1="527.4" x2="387.4" y2="519.15" stroke="#000" stroke-width="1.3"/>
<line x1="384.6" y1="519.2" x2="390.2" y2="519.2" stroke="#000" stroke-width="1.4"/>
<rect x="383.18" y="527.27" width="8.45" height="42.23" fill="#3c3c3c" stroke="#000" stroke-width="1.75"/>
<line x1="387.4" y1="569.5" x2="387.4" y2="574.5" stroke="#000" stroke-width="1.4"/>
<text x="387.4" y="575.7" font-size="10.1" font-weight="bold" stroke="#000" stroke-width="0.3" text-anchor="end" transform="rotate(-90 387.4 575.7)" dy="3.5">1000</text>
<line x1="400.75" y1="485.4" x2="400.75" y2="477.9" stroke="#000" stroke-width="1.3"/>
<line x1="397.95" y1="477.95" x2="403.55" y2="477.95" stroke="#000" stroke-width="1.4"/>
<rect x="396.53" y="485.27" width="8.45" height="84.23" fill="#3c3c3c" stroke="#000" stroke-width="1.75"/>
<line x1="400.75" y1="569.5" x2="400.75" y2="574.5" stroke="#000" stroke-width="1.4"/>
<text x="400.75" y="575.7" font-size="10.1" font-weight="bold" stroke="#000" stroke-width="0.3" text-anchor="end" transform="rotate(-90 400.75 575.7)" dy="3.5">2000</text>
<line x1="423.1" y1="557.4" x2="423.1" y2="555.6" stroke="#000" stroke-width="1.3"/>
<line x1="420.3" y1="555.65" x2="425.9" y2="555.65" stroke="#000" stroke-width="1.4"/>
<rect x="418.88" y="557.27" width="8.45" height="12.23" fill="#3c3c3c" stroke="#000" stroke-width="1.75"/>
<line x1="423.1" y1="569.5" x2="423.1" y2="574.5" stroke="#000" stroke-width="1.4"/>
<text x="423.1" y="575.7" font-size="10.1" font-weight="bold" stroke="#000" stroke-width="0.3" text-anchor="end" transform="rotate(-90 423.1 575.7)" dy="3.5">0</text>
<line x1="436.45" y1="504.15" x2="436.45" y2="482.4" stroke="#000" stroke-width="1.3"/>
<line x1="433.65" y1="482.45" x2="439.25" y2="482.45" stroke="#000" stroke-width="1.4"/>
<rect x="432.23" y="504.02" width="8.45" height="65.48" fill="#3c3c3c" stroke="#000" stroke-width="1.75"/>
<line x1="436.45" y1="569.5" x2="436.45" y2="574.5" stroke="#000" stroke-width="1.4"/>
<text x="436.45" y="575.7" font-size="10.1" font-weight="bold" stroke="#000" stroke-width="0.3" text-anchor="end" transform="rotate(-90 436.45 575.7)" dy="3.5">500</text>
<line x1="449.8" y1="490.4" x2="449.8" y2="466.65" stroke="#000" stroke-width="1.3"/>
<line x1="447" y1="466.7" x2="452.6" y2="466.7" stroke="#000" stroke-width="1.4"/>
<rect x="445.57" y="490.27" width="8.45" height="79.23" fill="#3c3c3c" stroke="#000" stroke-width="1.75"/>
<line x1="449.8" y1="569.5" x2="449.8" y2="574.5" stroke="#000" stroke-width="1.4"/>
<text x="449.8" y="575.7" font-size="10.1" font-weight="bold" stroke="#000" stroke-width="0.3" text-anchor="end" transform="rotate(-90 449.8 575.7)" dy="3.5">1000</text>
<line x1="463.15" y1="477.4" x2="463.15" y2="457.4" stroke="#000" stroke-width="1.3"/>
<line x1="460.35" y1="457.45" x2="465.95" y2="457.45" stroke="#000" stroke-width="1.4"/>
<rect x="458.93" y="477.27" width="8.45" height="92.23" fill="#3c3c3c" stroke="#000" stroke-width="1.75"/>
<line x1="463.15" y1="569.5" x2="463.15" y2="574.5" stroke="#000" stroke-width="1.4"/>
<text x="463.15" y="575.7" font-size="10.1" font-weight="bold" stroke="#000" stroke-width="0.3" text-anchor="end" transform="rotate(-90 463.15 575.7)" dy="3.5">2000</text>
<line x1="32.3" y1="569.5" x2="473.8" y2="569.5" stroke="#000" stroke-width="1.7"/>
<line x1="37.5" y1="436.7" x2="37.5" y2="570.4" stroke="#000" stroke-width="1.8"/>
<line x1="32.3" y1="569.5" x2="37.5" y2="569.5" stroke="#000" stroke-width="1.65"/>
<text x="31.8" y="573.35" font-size="10.05" font-weight="bold" stroke="#000" stroke-width="0.3" text-anchor="end" transform="rotate(0.03 31.8 573.35)">0</text>
<line x1="32.3" y1="543.1" x2="37.5" y2="543.1" stroke="#000" stroke-width="1.65"/>
<text x="31.8" y="546.95" font-size="10.05" font-weight="bold" stroke="#000" stroke-width="0.3" text-anchor="end" transform="rotate(0.03 31.8 546.95)">20</text>
<line x1="32.3" y1="516.7" x2="37.5" y2="516.7" stroke="#000" stroke-width="1.65"/>
<text x="31.8" y="520.55" font-size="10.05" font-weight="bold" stroke="#000" stroke-width="0.3" text-anchor="end" transform="rotate(0.03 31.8 520.55)">40</text>
<line x1="32.3" y1="490.3" x2="37.5" y2="490.3" stroke="#000" stroke-width="1.65"/>
<text x="31.8" y="494.15" font-size="10.05" font-weight="bold" stroke="#000" stroke-width="0.3" text-anchor="end" transform="rotate(0.03 31.8 494.15)">60</text>
<line x1="32.3" y1="463.9" x2="37.5" y2="463.9" stroke="#000" stroke-width="1.65"/>
<text x="31.8" y="467.75" font-size="10.05" font-weight="bold" stroke="#000" stroke-width="0.3" text-anchor="end" transform="rotate(0.03 31.8 467.75)">80</text>
<line x1="32.3" y1="437.5" x2="37.5" y2="437.5" stroke="#000" stroke-width="1.65"/>
<text x="31.8" y="441.35" font-size="10.05" font-weight="bold" stroke="#000" stroke-width="0.3" text-anchor="end" transform="rotate(0.03 31.8 441.35)">100</text>
<line x1="38.6" y1="503.55" x2="472.5" y2="503.55" stroke="#000" stroke-width="1.3" stroke-dasharray="2.2 1.94"/>
<text x="10.0" y="505.3" font-size="11.65" font-weight="bold" stroke="#000" stroke-width="0.3" text-anchor="middle" transform="rotate(-90 10.0 505.3)" word-spacing="-1.35">% Annexin / PI</text>
<text x="485.1" y="573" font-size="11.0" font-weight="bold" stroke="#000" stroke-width="0.3" text-anchor="start" transform="rotate(0.03 485.1 573)">[nM]</text>
<text x="276.3" y="485.6" font-size="9" text-anchor="middle" transform="rotate(0.03 276.3 485.6)" stroke="#000" stroke-width="0.25">#</text>
<text x="324.1" y="496.4" font-size="9" text-anchor="middle" transform="rotate(0.03 324.1 496.4)" stroke="#000" stroke-width="0.25">#</text>
<text x="339.3" y="476.4" font-size="9" text-anchor="middle" transform="rotate(0.03 339.3 476.4)" stroke="#000" stroke-width="0.25">#</text>
<text x="68.3" y="625" font-size="9.55" font-weight="bold" stroke="#000" stroke-width="0.3" text-anchor="middle" transform="rotate(0.03 68.3 625)">KU55933</text>
<text x="68.2" y="637.1" font-size="9.55" text-anchor="middle" transform="rotate(0.03 68.2 637.1)">(ATM)</text>
<text x="132.8" y="625" font-size="9.55" font-weight="bold" stroke="#000" stroke-width="0.3" text-anchor="middle" transform="rotate(0.03 132.8 625)">KU57788</text>
<text x="131" y="637.1" font-size="9.55" text-anchor="middle" transform="rotate(0.03 131 637.1)">(DNA-PK)</text>
<text x="192" y="625.7" font-size="9.55" font-weight="bold" stroke="#000" stroke-width="0.3" text-anchor="middle" transform="rotate(0.03 192 625.7)">KU55933</text>
<text x="191.6" y="637.8" font-size="9.55" text-anchor="middle" transform="rotate(0.03 191.6 637.8)">(ATM)</text>
<text x="191.8" y="651.6" font-size="9.55" font-weight="bold" stroke="#000" stroke-width="0.3" text-anchor="middle" transform="rotate(0.03 191.8 651.6)">Everolimus</text>
<text x="191.9" y="663.4" font-size="9.55" text-anchor="middle" transform="rotate(0.03 191.9 663.4)">(mTORC1)</text>
<text x="258.4" y="625.7" font-size="9.55" font-weight="bold" stroke="#000" stroke-width="0.3" text-anchor="middle" transform="rotate(0.03 258.4 625.7)">KU55933</text>
<text x="258" y="637.8" font-size="9.55" text-anchor="middle" transform="rotate(0.03 258 637.8)">(ATM)</text>
<text x="258.7" y="651.6" font-size="9.55" font-weight="bold" stroke="#000" stroke-width="0.3" text-anchor="middle" transform="rotate(0.03 258.7 651.6)">KU57788</text>
<text x="257" y="663.4" font-size="9.55" text-anchor="middle" transform="rotate(0.03 257 663.4)">(DNA-PK)</text>
<text x="322.8" y="626.6" font-size="9.55" font-weight="bold" stroke="#000" stroke-width="0.3" text-anchor="middle" transform="rotate(0.03 322.8 626.6)">KU57788</text>
<text x="320.7" y="639.2" font-size="9.55" text-anchor="middle" transform="rotate(0.03 320.7 639.2)">(DNA-PK)</text>
<text x="322" y="651.6" font-size="9.55" font-weight="bold" stroke="#000" stroke-width="0.3" text-anchor="middle" transform="rotate(0.03 322 651.6)">Everolimus</text>
<text x="322.4" y="663.4" font-size="9.55" text-anchor="middle" transform="rotate(0.03 322.4 663.4)">(mTORC1)</text>
<text x="387.8" y="626.7" font-size="9.55" font-weight="bold" stroke="#000" stroke-width="0.3" text-anchor="middle" transform="rotate(0.03 387.8 626.7)">KU55933</text>
<text x="387.5" y="638.7" font-size="9.55" text-anchor="middle" transform="rotate(0.03 387.5 638.7)">(ATM)</text>
<text x="390" y="651.3" font-size="9.55" font-weight="bold" stroke="#000" stroke-width="0.3" text-anchor="middle" transform="rotate(0.03 390 651.3)">KU57788</text>
<text x="389.1" y="664.2" font-size="9.55" text-anchor="middle" transform="rotate(0.03 389.1 664.2)">(DNA-PK)</text>
<text x="390.6" y="676.7" font-size="9.55" font-weight="bold" stroke="#000" stroke-width="0.3" text-anchor="middle" transform="rotate(0.03 390.6 676.7)">Everolimus</text>
<text x="391" y="688.7" font-size="9.55" text-anchor="middle" transform="rotate(0.03 391 688.7)">(mTORC1)</text>
<text x="447.1" y="625.8" font-size="9.55" font-weight="bold" stroke="#000" stroke-width="0.3" text-anchor="middle" transform="rotate(0.03 447.1 625.8)">BEZ235</text>
</g>
</svg></body></html>
